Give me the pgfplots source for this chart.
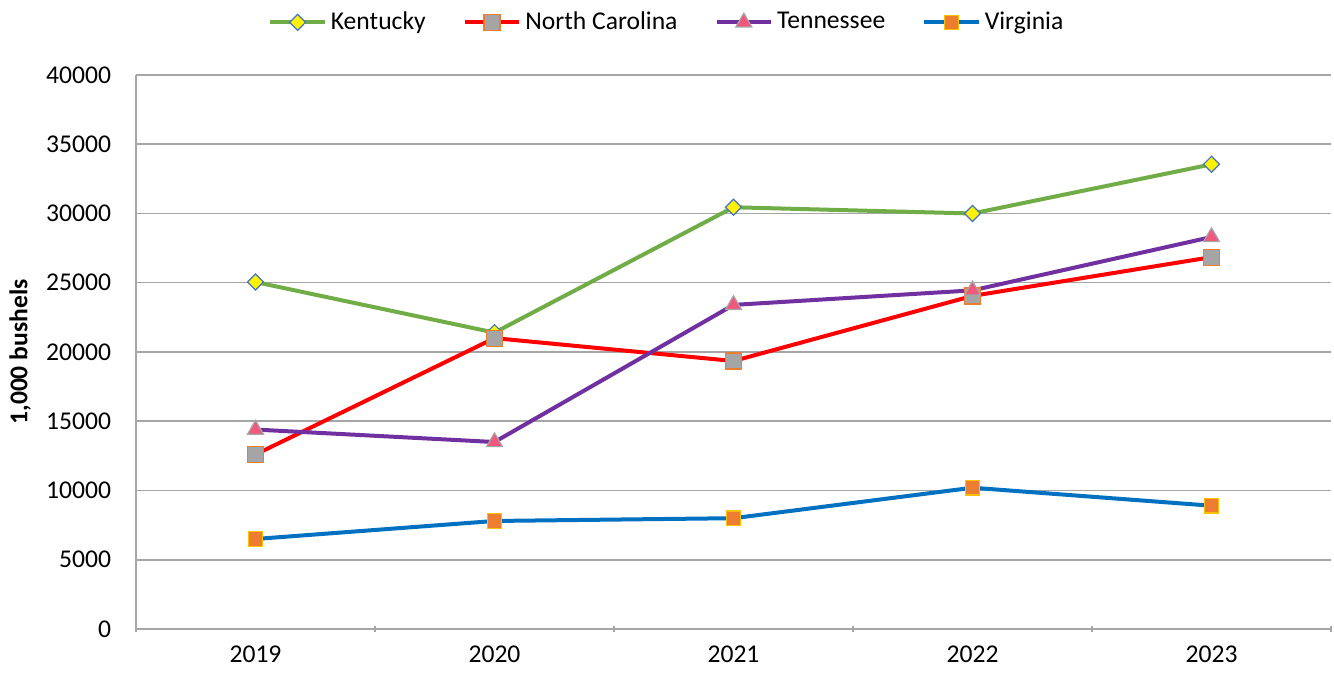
\documentclass[border=0pt]{standalone}
\usepackage{fontspec}
\setmainfont{Carlito}
\usepackage{pgfplots}
\pgfplotsset{compat=1.18}
\usetikzlibrary{calc}
\definecolor{kyline}{HTML}{70AD47}
\definecolor{kyedge}{HTML}{4472C4}
\definecolor{ncedge}{HTML}{ED7D31}
\definecolor{ncfill}{HTML}{A5A5A5}
\definecolor{tnline}{HTML}{7030A0}
\definecolor{tnfill}{HTML}{F0587E}
\definecolor{valine}{HTML}{0070C0}
\definecolor{vafill}{HTML}{ED7D31}
\definecolor{vaedge}{HTML}{FFC000}
\definecolor{gridc}{HTML}{A6A6A6}
\begin{document}
\fontsize{12.8}{15}\selectfont
\begin{tikzpicture}
\begin{axis}[
  scale only axis,
  width=597.5pt, height=277pt,
  xmin=-0.5, xmax=4.5,
  ymin=0, ymax=40000,
  ytick={0,5000,...,40000},
  xtick={0,1,2,3,4},
  xticklabels={2019,2020,2021,2022,2023},
  minor xtick={-0.5,0.5,1.5,2.5,3.5,4.5},
  major tick length=0pt,
  minor tick length=3pt,
  tick align=outside,
  axis x line=bottom, axis y line=left,
  axis line style={-, draw=gridc, line width=0.75pt},
  minor tick style={draw=gridc, line width=0.75pt},
  ymajorgrids,
  grid style={draw=gridc, line width=0.75pt},
  scaled y ticks=false,
  /pgf/number format/assume math mode=true,
  yticklabel={\pgfmathprintnumber[fixed,1000 sep={}]{\tick}},
  tick label style={font=\fontsize{12.8}{15}\selectfont, text=black},
  yticklabel style={xshift=-8pt},
  xticklabel style={yshift=-4pt},
  ylabel={\textbf{1,000 bushels}},
  ylabel style={at={(axis description cs:-0.097,0.5)}, anchor=center, font=\fontsize{12.8}{15}\selectfont},
  legend style={at={(axis description cs:0.445,1.095)}, anchor=center, draw=none, fill=none,
    legend columns=-1, font=\fontsize{12.8}{15}\selectfont,
    /tikz/every even column/.append style={column sep=16.5pt}},
  legend cell align=left,
  legend image code/.code={\draw[mark repeat=2,mark phase=2] plot coordinates {(0cm,0cm) (0.48cm,0cm) (0.96cm,0cm)};},
  clip=false,
]
\addplot[color=kyline, line width=2pt, mark=diamond*, mark size=4pt,
  mark options={fill=yellow, draw=kyedge, line width=0.6pt, xscale=1.33}]
  coordinates {(0,25050) (1,21400) (2,30450) (3,30000) (4,33550)};
\addlegendentry{Kentucky}
\addplot[color=red, line width=2pt, mark=square*, mark size=4pt,
  mark options={fill=ncfill, draw=ncedge, line width=0.6pt}]
  coordinates {(0,12600) (1,21000) (2,19350) (3,24050) (4,26850)};
\addlegendentry{North Carolina}
\addplot[color=tnline, line width=2pt, mark=triangle*, mark size=4.6pt,
  mark options={fill=tnfill, draw=gridc, line width=0.6pt}]
  coordinates {(0,14400) (1,13500) (2,23400) (3,24450) (4,28300)};
\addlegendentry{Tennessee}
\addplot[color=valine, line width=2pt, mark=square*, mark size=3.6pt,
  mark options={fill=vafill, draw=vaedge, line width=0.6pt}]
  coordinates {(0,6500) (1,7800) (2,8000) (3,10200) (4,8900)};
\addlegendentry{Virginia}
\coordinate (bl) at (rel axis cs:0,0);
\coordinate (tr) at (rel axis cs:1,1);
\end{axis}
\pgfresetboundingbox
\path[use as bounding box] ($(bl)+(-68pt,-22pt)$) rectangle ($(tr)+(1.5pt,37.5pt)$);
\end{tikzpicture}
\end{document}
